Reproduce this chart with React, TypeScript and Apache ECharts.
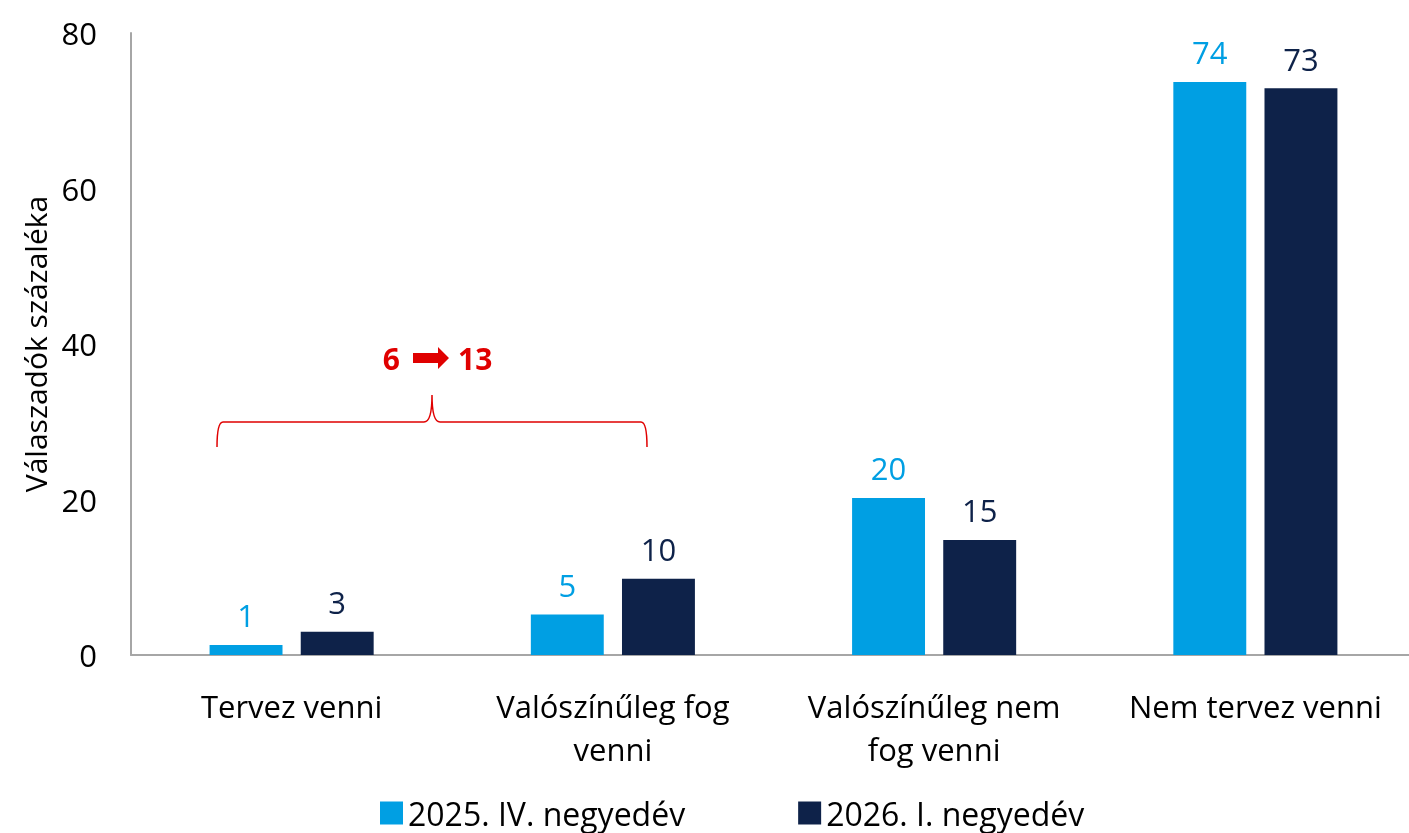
import React, { useEffect, useRef } from "react";
import * as echarts from "echarts";

const categories = ["Tervez venni", "Valószínűleg fog\nvenni", "Valószínűleg nem\nfog venni", "Nem tervez venni"];
const seriesNames = ["2025. IV. negyedév", "2026. I. negyedév"];
const q4_2025 = [1.3, 5.2, 20.2, 73.7];
const q1_2026 = [3.0, 9.8, 14.8, 72.9];
const yTicks = { min: 0, max: 80, interval: 20 };
const annotation = { from: "6", to: "13" };

const BLUE = "#009FE3";
const NAVY = "#0E2249";
const RED = "#E00000";
const FONT = "'Open Sans', 'Noto Sans', sans-serif";
const FS = 31;

let registered = false;
function registerShapes() {
  if (registered) return;
  registered = true;
  const brace =
    "M217,447 Q217,422 223,422 L424,422 Q432,422 432,395 Q432,422 440,422 L641,422 Q647,422 647,447";
  echarts.graphic.registerShape("brace", echarts.graphic.extendPath(brace, {}));
}

export default function App() {
  const ref = useRef<HTMLDivElement>(null);
  useEffect(() => {
    if (!ref.current) return;
    registerShapes();
    const chart = echarts.init(ref.current, undefined, { renderer: "svg" });
    const labelCfg = (color: string) => ({
      show: true,
      position: "top",
      distance: 14,
      color,
      fontSize: FS,
      fontFamily: FONT,
      formatter: (p: any) => String(Math.round(p.value)),
    });
    chart.setOption({
      animation: false,
      textStyle: { fontFamily: FONT },
      grid: { left: 131, right: 0, top: 33, bottom: 178, containLabel: false },
      legend: {
        data: seriesNames,
        left: 375,
        top: 792,
        itemWidth: 23,
        itemHeight: 23,
        itemGap: 113,
        icon: "rect",
        textStyle: { fontSize: FS + 1, color: "#000", fontFamily: FONT },
      },
      xAxis: {
        type: "category",
        data: categories,
        axisLine: { lineStyle: { color: "#A6A6A6", width: 2 } },
        axisTick: { show: false },
        axisLabel: { fontSize: FS, color: "#000", lineHeight: 43, margin: 29, fontFamily: FONT, interval: 0 },
      },
      yAxis: {
        type: "value",
        min: yTicks.min,
        max: yTicks.max,
        interval: yTicks.interval,
        name: "Válaszadók százaléka",
        nameLocation: "middle",
        nameGap: 80,
        nameTextStyle: { fontSize: FS - 1, color: "#000", fontFamily: FONT },
        axisLine: { show: true, lineStyle: { color: "#A6A6A6", width: 2 } },
        axisTick: { show: false },
        splitLine: { show: false },
        axisLabel: { fontSize: FS, color: "#000", margin: 34, fontFamily: FONT },
      },
      series: [
        {
          name: seriesNames[0],
          type: "bar",
          data: q4_2025,
          barWidth: "22.7%",
          barGap: "25%",
          itemStyle: { color: BLUE },
          label: labelCfg(BLUE),
        },
        {
          name: seriesNames[1],
          type: "bar",
          data: q1_2026,
          barWidth: "22.7%",
          barGap: "25%",
          itemStyle: { color: NAVY },
          label: labelCfg(NAVY),
        },
      ],
      graphic: [
        {
          type: "brace",
          x: 0,
          y: 0,
          style: { fill: "none", stroke: RED, lineWidth: 1.5 },
          z: 10,
        },
        {
          type: "text",
          x: 400,
          y: 358,
          style: { text: annotation.from, fill: RED, fontSize: 30, fontWeight: "bold", fontFamily: FONT, align: "right", verticalAlign: "middle" },
        },
        {
          type: "polygon",
          shape: {
            points: [
              [413, 353],
              [438, 353],
              [438, 347],
              [449, 358],
              [438, 369],
              [438, 363],
              [413, 363],
            ],
          },
          style: { fill: RED },
        },
        {
          type: "text",
          x: 458,
          y: 358,
          style: { text: annotation.to, fill: RED, fontSize: 30, fontWeight: "bold", fontFamily: FONT, align: "left", verticalAlign: "middle" },
        },
      ],
    });
    return () => chart.dispose();
  }, []);
  return (
    <div style={{ position: "fixed", left: 0, top: 0, width: 1409, height: 833, overflow: "hidden" }}>
      <div ref={ref} style={{ width: 1416, height: 833 }} />
    </div>
  );
}
